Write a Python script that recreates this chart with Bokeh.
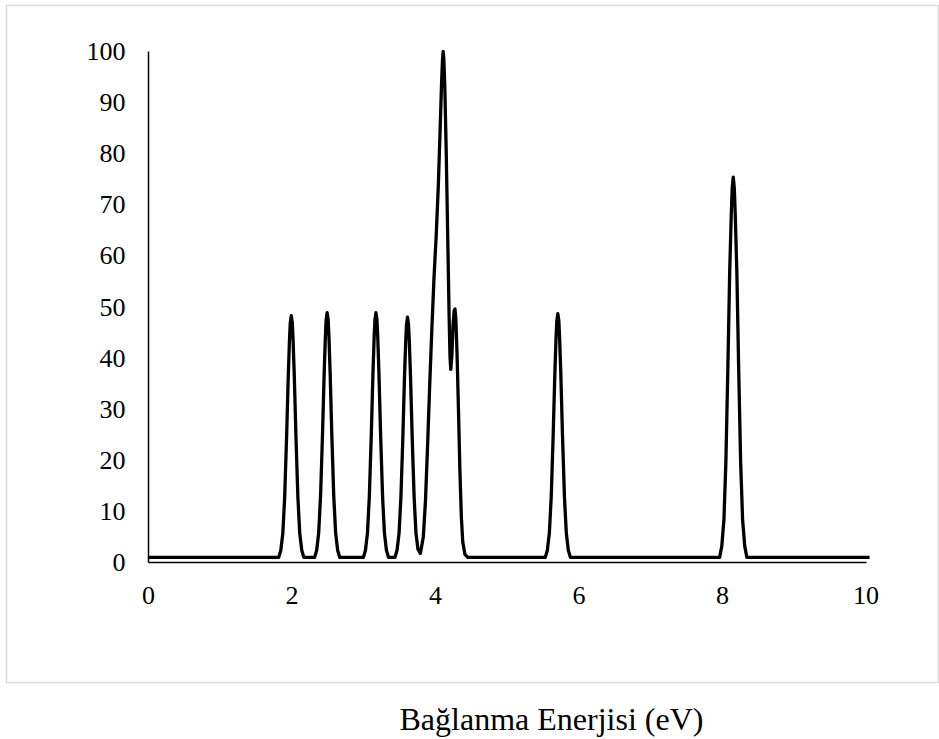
from bokeh.plotting import figure
from bokeh.models import FixedTicker, Title, Range1d
from bokeh.embed import file_html
from bokeh.resources import INLINE

# ---- data (binding energy in eV, intensity) ----
start_e = [0.0]
start_i = [1.0]

peak1_e = [1.815, 1.844, 1.872, 1.898, 1.925, 1.948, 1.965, 1.976, 1.99, 2.004, 2.015, 2.032, 2.055, 2.082, 2.108, 2.136, 2.165]
peak1_i = [1.0, 2.4, 5.7, 12.8, 24.7, 36.5, 43.6, 46.9, 48.3, 46.9, 43.6, 36.5, 24.7, 12.8, 5.7, 2.4, 1.0]

peak2_e = [2.315, 2.344, 2.372, 2.398, 2.425, 2.448, 2.465, 2.476, 2.49, 2.504, 2.515, 2.532, 2.555, 2.582, 2.608, 2.636, 2.665]
peak2_i = [1.0, 2.4, 5.8, 13.0, 25.0, 36.9, 44.1, 47.5, 48.9, 47.5, 44.1, 36.9, 25.0, 13.0, 5.8, 2.4, 1.0]

peak3_e = [2.995, 3.024, 3.052, 3.078, 3.105, 3.128, 3.145, 3.156, 3.17, 3.184, 3.195, 3.212, 3.235, 3.262, 3.288, 3.316, 3.345]
peak3_i = [1.0, 2.4, 5.8, 13.0, 25.0, 36.9, 44.1, 47.5, 48.9, 47.5, 44.1, 36.9, 25.0, 13.0, 5.8, 2.4, 1.0]

peak4_e = [3.435, 3.464, 3.492, 3.518, 3.545, 3.568, 3.585, 3.596, 3.61, 3.624, 3.635, 3.652, 3.675, 3.702, 3.728, 3.756]
peak4_i = [1.0, 2.4, 5.7, 12.8, 24.5, 36.3, 43.3, 46.6, 48.0, 46.6, 43.3, 36.3, 24.5, 12.8, 5.7, 2.6]

main_e = [3.79, 3.83, 3.86, 3.89, 3.92, 3.95, 3.98, 4.01, 4.04, 4.065, 4.085, 4.098, 4.107, 4.116, 4.13, 4.15,
          4.17, 4.19, 4.203, 4.213, 4.228, 4.245, 4.26, 4.272, 4.284, 4.30, 4.32, 4.34, 4.36, 4.38, 4.41, 4.45]
main_i = [1.8, 5.0, 12.0, 23.0, 35.0, 46.0, 56.0, 64.0, 74.0, 85.0, 94.0, 98.5, 100.0, 98.5, 93.0, 80.0,
          64.0, 48.0, 40.0, 37.8, 40.5, 46.5, 49.3, 49.6, 47.5, 41.0, 30.0, 18.0, 9.0, 4.0, 1.6, 1.0]

peak6_e = [5.53, 5.559, 5.587, 5.613, 5.64, 5.663, 5.68, 5.691, 5.705, 5.719, 5.73, 5.747, 5.77, 5.797, 5.823, 5.851, 5.88]
peak6_i = [1.0, 2.4, 5.8, 12.9, 24.9, 36.8, 43.9, 47.3, 48.7, 47.3, 43.9, 36.8, 24.9, 12.9, 5.8, 2.4, 1.0]

peak7_e = [7.96, 7.99, 8.02, 8.047, 8.075, 8.10, 8.122, 8.135, 8.15, 8.165, 8.178, 8.20, 8.225, 8.253, 8.28, 8.31, 8.34]
peak7_i = [1.0, 3.2, 8.4, 19.6, 38.2, 56.8, 68.0, 73.2, 75.4, 73.2, 68.0, 56.8, 38.2, 19.6, 8.4, 3.2, 1.0]

end_e = [10.05]
end_i = [1.0]

x_ticks = [0, 2, 4, 6, 8, 10]
y_ticks = [0, 10, 20, 30, 40, 50, 60, 70, 80, 90, 100]
x_title = "Bağlanma Enerjisi (eV)"

energy = start_e + peak1_e + peak2_e + peak3_e + peak4_e + main_e + peak6_e + peak7_e + end_e
intensity = start_i + peak1_i + peak2_i + peak3_i + peak4_i + main_i + peak6_i + peak7_i + end_i

W, H = 939, 739
FONT = "Liberation Serif"

# frame = grey chart-area box; axes sit inside it at x=0 / y=0
PX_X = 71.75   # pixels per eV
PX_Y = 5.11    # pixels per intensity unit
FR_L, FR_R, FR_T, FR_B = 6, 939, 5, 682
X0_PX, Y0_PX = 148, 562
x_start = -(X0_PX - FR_L) / PX_X
x_end = x_start + (FR_R - FR_L) / PX_X
y_start = -(FR_B - Y0_PX) / PX_Y
y_end = y_start + (FR_B - FR_T) / PX_Y

p = figure(width=W, height=H, output_backend="svg", toolbar_location=None,
           x_range=Range1d(x_start, x_end), y_range=Range1d(y_start, y_end),
           min_border_left=FR_L, min_border_right=W - FR_R, min_border_top=FR_T,
           min_border_bottom=H - FR_B)
p.outline_line_color = "#d9d9d9"
p.outline_line_width = 1.5
p.grid.grid_line_color = None
p.background_fill_color = "white"
p.border_fill_color = "white"

p.line(energy, intensity, line_color="black", line_width=3.3, line_join="round")

p.xaxis.fixed_location = 0
p.yaxis.fixed_location = 0
p.xaxis.ticker = FixedTicker(ticks=x_ticks)
p.yaxis.ticker = FixedTicker(ticks=y_ticks)
p.xaxis.bounds = (0, 10)
p.yaxis.bounds = (0, 100)
for ax in p.axis:
    ax.axis_line_color = "black"
    ax.axis_line_width = 1.5
    ax.major_tick_out = 0
    ax.major_tick_in = 0
    ax.minor_tick_out = 0
    ax.minor_tick_in = 0
    ax.major_label_text_font = FONT
    ax.major_label_text_font_size = "26px"
    ax.major_label_text_color = "black"
p.xaxis.major_label_standoff = 24
p.yaxis.major_label_standoff = 23

# blank spacer panel between the box and the axis title
spacer = Title(text=" ", standoff=12, text_font=FONT, text_font_size="1px")
p.add_layout(spacer, "below")

title = Title(text=x_title, align="left", offset=393, standoff=3,
              text_font=FONT, text_font_size="32px", text_font_style="normal",
              text_color="black")
p.add_layout(title, "below")

open("out.html", "w").write(file_html(p, INLINE))
